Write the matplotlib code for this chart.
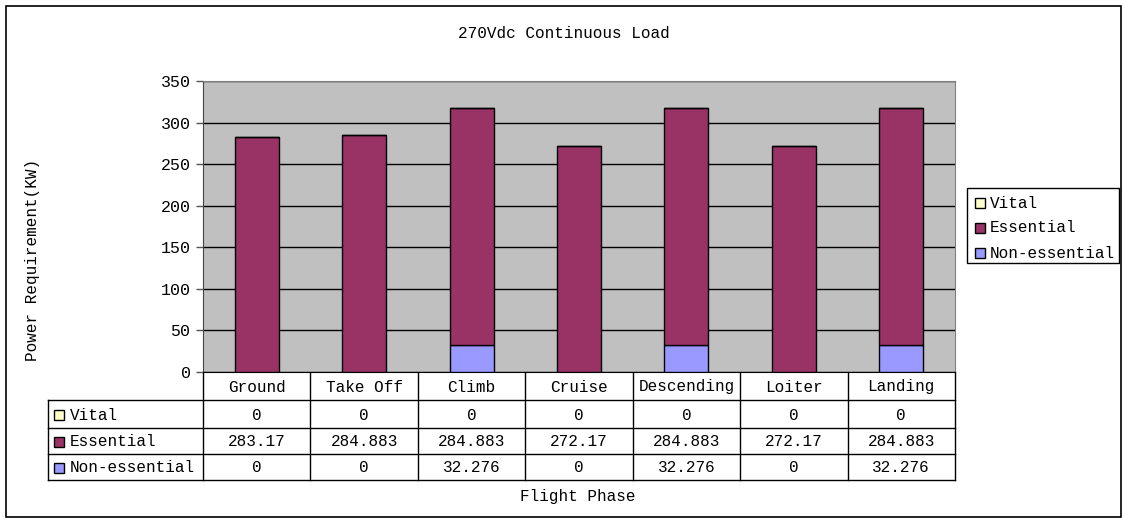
import numpy as np
import matplotlib.pyplot as plt
from matplotlib.patches import Rectangle

plt.rcParams['font.family'] = ['Liberation Mono', 'DejaVu Sans Mono']

# Continuous load per flight phase (kW)
phases = ['Ground', 'Take Off', 'Climb', 'Cruise', 'Descending', 'Loiter', 'Landing']
vital = [0, 0, 0, 0, 0, 0, 0]
essential = [283.17, 284.883, 284.883, 272.17, 284.883, 272.17, 284.883]
non_essential = [0, 0, 32.276, 0, 32.276, 0, 32.276]

series_names = ['Vital', 'Essential', 'Non-essential']
series_colors = ['#FFFFCC', '#993366', '#9999FF']

W, H = 1123, 519
fig = plt.figure(figsize=(W / 100, H / 100), dpi=100)
FS = 11.5


def fig_box(x0, y0, x1, y1):
    # pixel box (top-left origin) -> figure fraction rect
    return [x0 / W, 1 - y1 / H, (x1 - x0) / W, (y1 - y0) / H]


# overlay axes in pixel coordinates for frame, table and legend
over = fig.add_axes([0, 0, 1, 1])
over.set_xlim(0, W)
over.set_ylim(H, 0)
over.axis('off')
over.add_patch(Rectangle((6, 6), W - 8, H - 8, fill=False, ec='black', lw=1.2))

# plot area
px0, px1, py0, py1 = 203, 955, 81, 372
ax = fig.add_axes(fig_box(px0, py0, px1, py1))
ax.set_facecolor('#C0C0C0')
x = np.arange(len(phases))
bw = 0.41
ax.bar(x, non_essential, bw, color=series_colors[2], edgecolor='black', lw=1, zorder=3)
ax.bar(x, essential, bw, bottom=non_essential, color=series_colors[1],
       edgecolor='black', lw=1, zorder=3)
base = np.array(essential) + np.array(non_essential)
ax.bar(x, vital, bw, bottom=base, color=series_colors[0], edgecolor='black', lw=1, zorder=3)
ax.set_xlim(-0.5, len(phases) - 0.5)
ax.set_ylim(0, 350)
ax.set_yticks(range(0, 351, 50))
ax.set_xticks([])
ax.yaxis.grid(True, color='black', lw=1)
ax.set_axisbelow(True)
ax.tick_params(axis='y', length=5, width=1, color='#555555', labelsize=FS + 0.5, pad=4)
for s in ax.spines.values():
    s.set_color('#808080')
ax.spines['left'].set_color('#444444')
ax.spines['bottom'].set_color('black')

# title and axis labels
over.text((px0 + px1) / 2 - 15, 34, '270Vdc Continuous Load', ha='center', va='center', fontsize=FS)
over.text(33, 260, 'Power Requirement(KW)', ha='center', va='center', rotation=90, fontsize=FS)
over.text(578, 496, 'Flight Phase', ha='center', va='center', fontsize=FS)

# data table under the plot
tx0 = 48
cw = (px1 - px0) / len(phases)
rows_y = [372, 400, 428, 454, 480]
lc = 'black'
for y in rows_y[1:]:
    over.plot([tx0, px1], [y, y], color=lc, lw=1)
for k in range(len(phases) + 1):
    xx = px0 + k * cw
    over.plot([xx, xx], [rows_y[0], rows_y[-1]], color=lc, lw=1)
over.plot([tx0, tx0], [rows_y[1], rows_y[-1]], color=lc, lw=1)

for k, p in enumerate(phases):
    over.text(px0 + (k + 0.5) * cw, (rows_y[0] + rows_y[1]) / 2 + 1, p,
              ha='center', va='center', fontsize=FS)

table_vals = [vital, essential, non_essential]
for r, (name, col, vals) in enumerate(zip(series_names, series_colors, table_vals)):
    yc = (rows_y[r + 1] + rows_y[r + 2]) / 2 + 1
    over.add_patch(Rectangle((54, yc - 5), 10, 10, fc=col, ec='black', lw=1))
    over.text(70, yc, name, ha='left', va='center', fontsize=FS)
    for k, v in enumerate(vals):
        over.text(px0 + (k + 0.5) * cw, yc, f'{v:g}', ha='center', va='center', fontsize=FS)

# legend box on the right
over.add_patch(Rectangle((967, 188), 152, 75, fill=False, ec='black', lw=1))
for r, (name, col) in enumerate(zip(series_names, series_colors)):
    yc = 203 + r * 25
    over.add_patch(Rectangle((975, yc - 5), 10, 10, fc=col, ec='black', lw=1))
    over.text(990, yc, name, ha='left', va='center', fontsize=FS)

fig.savefig('out.png', dpi=100)
